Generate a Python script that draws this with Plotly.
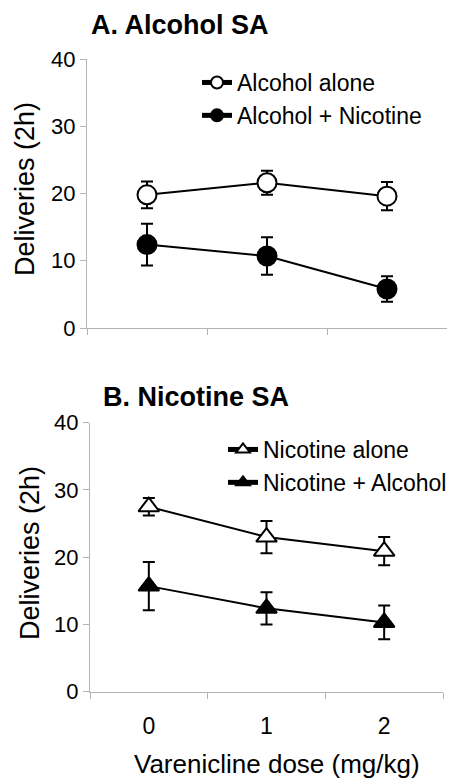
import plotly.graph_objects as go

doses = [0, 1, 2]
dose_labels = ["0", "1", "2"]

alc_alone = [19.8, 21.6, 19.6]
alc_alone_err = [2.0, 1.8, 2.1]
alc_nic = [12.4, 10.7, 5.8]
alc_nic_err = [3.1, 2.8, 1.9]

nic_alone = [27.5, 23.0, 20.9]
nic_alone_err = [1.3, 2.4, 2.1]
nic_alc = [15.7, 12.4, 10.3]
nic_alc_err = [3.6, 2.4, 2.5]

y_ticks = [0, 10, 20, 30, 40]
boundaries = [-0.5, 0.5, 1.5, 2.5]

FONT = "Arial, Liberation Sans, sans-serif"
OFF = 8  # default page body margin
W, H = 455 - OFF, 783 - OFF
AX = "#b4b4b4"


def px(x):
    return (x - OFF) / W


def py(y):
    return 1 - (y - OFF) / H


fig = go.Figure()


def add(x, y, err, name, symbol, fill, size, xa, ya, legend):
    fig.add_trace(go.Scatter(
        x=x, y=y, name=name, mode="lines+markers",
        xaxis=xa, yaxis=ya, legend=legend,
        line=dict(color="black", width=2),
        marker=dict(symbol=symbol, size=size, color=fill,
                    line=dict(color="black", width=2)),
        error_y=dict(type="data", array=err, visible=True, color="black",
                     thickness=2, width=6),
    ))


add(doses, alc_alone, alc_alone_err, "Alcohol alone", "circle", "white", 19, "x", "y", "legend")
add(doses, alc_nic, alc_nic_err, "Alcohol + Nicotine", "circle", "black", 19, "x", "y", "legend")
add(doses, nic_alone, nic_alone_err, "Nicotine alone", "triangle-up", "white", 18, "x2", "y2", "legend2")
add(doses, nic_alc, nic_alc_err, "Nicotine + Alcohol", "triangle-up", "black", 18, "x2", "y2", "legend2")


def xax(domain, anchor, show_labels):
    return dict(
        domain=domain, anchor=anchor, range=[-0.5, 2.5],
        tickmode="array", tickvals=doses,
        ticktext=dose_labels if show_labels else ["", "", ""],
        showticklabels=show_labels, ticks="",
        ticklabelstandoff=14,
        tickfont=dict(family=FONT, size=23, color="black"),
        minor=dict(tickmode="array", tickvals=boundaries, ticks="outside",
                   ticklen=6, tickcolor=AX, tickwidth=1, showgrid=False),
        showline=True, linecolor=AX, linewidth=1,
        showgrid=False, zeroline=False, fixedrange=True,
    )


def yax(domain, anchor):
    return dict(
        domain=domain, anchor=anchor, range=[0, 40],
        tickmode="array", tickvals=y_ticks,
        ticks="outside", ticklen=6, tickcolor=AX, tickwidth=1,
        tickfont=dict(family=FONT, size=22, color="black"),
        showline=True, linecolor=AX, linewidth=1,
        showgrid=False, zeroline=False, fixedrange=True,
    )


legend_common = dict(xanchor="left", yanchor="top", bgcolor="rgba(0,0,0,0)",
                     font=dict(family=FONT, size=23), tracegroupgap=0,
                     itemwidth=30, itemsizing="constant")

fig.update_layout(
    width=W, height=H,
    margin=dict(l=0, r=0, t=0, b=0, autoexpand=False),
    paper_bgcolor="white", plot_bgcolor="white",
    font=dict(family=FONT, color="black"),
    xaxis=xax([px(87), px(447)], "y", False),
    yaxis=yax([py(328), py(59)], "x"),
    xaxis2=xax([px(90), px(443)], "y2", True),
    yaxis2=yax([py(691.7), py(422.7)], "x2"),
    legend=dict(x=px(197), y=py(61), **legend_common),
    legend2=dict(x=px(223), y=py(428), **legend_common),
    showlegend=True,
    annotations=[
        dict(text="<b>A. Alcohol SA</b>", x=px(89), y=py(25), xref="paper", yref="paper",
             xanchor="left", yanchor="middle", showarrow=False,
             font=dict(family=FONT, size=27)),
        dict(text="<b>B. Nicotine SA</b>", x=px(101), y=py(397), xref="paper", yref="paper",
             xanchor="left", yanchor="middle", showarrow=False,
             font=dict(family=FONT, size=27)),
        dict(text="Deliveries (2h)", x=px(25), y=py(189), xref="paper", yref="paper",
             xanchor="center", yanchor="middle", textangle=-90, showarrow=False,
             font=dict(family=FONT, size=27)),
        dict(text="Deliveries (2h)", x=px(30), y=py(553), xref="paper", yref="paper",
             xanchor="center", yanchor="middle", textangle=-90, showarrow=False,
             font=dict(family=FONT, size=27)),
        dict(text="Varenicline dose (mg/kg)", x=px(276.5), y=py(781), xref="paper", yref="paper",
             xanchor="center", yanchor="bottom", showarrow=False,
             font=dict(family=FONT, size=26)),
    ],
)

fig.write_html("out.html")
